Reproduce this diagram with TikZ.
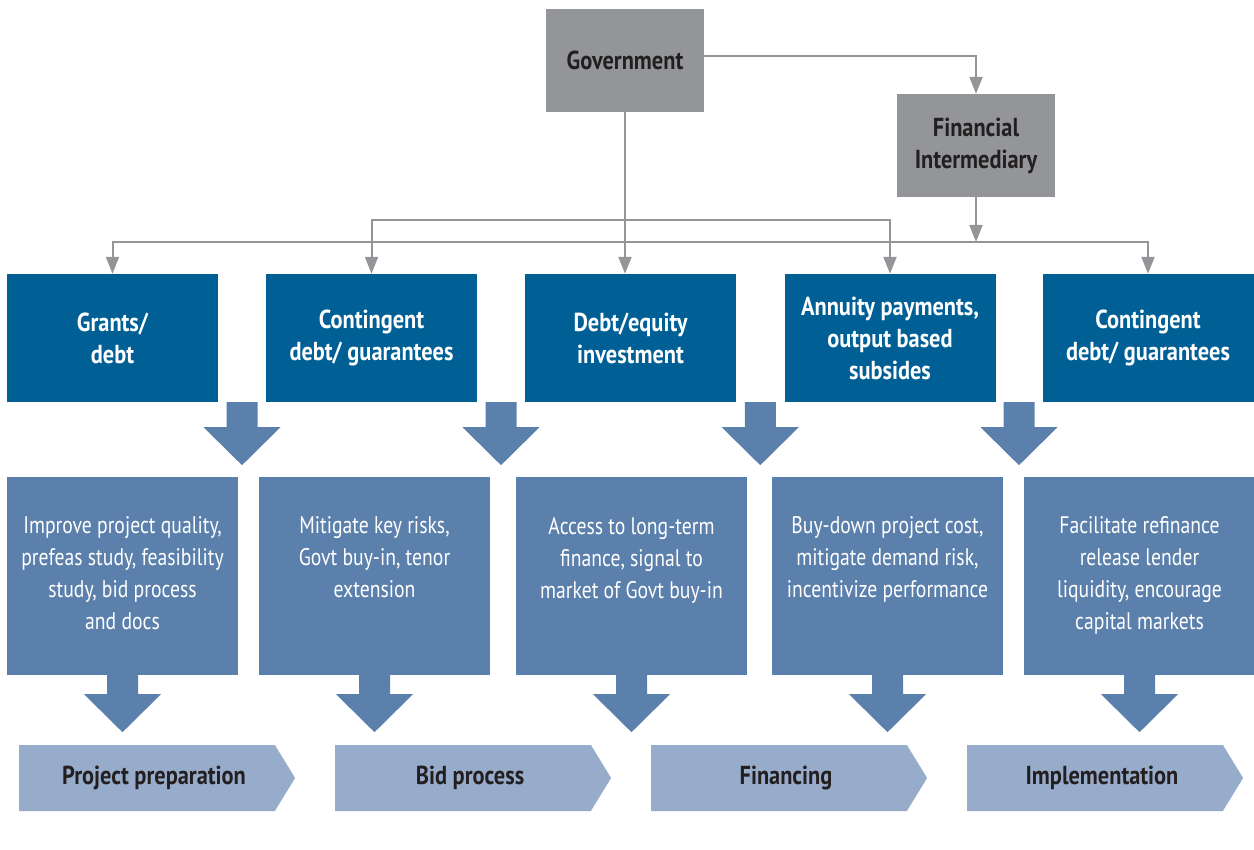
\documentclass[tikz,border=0pt]{standalone}
\usepackage{fontspec}
\setmainfont{PT Sans}[FakeStretch=0.82]
\newfontfamily\headfont{PT Sans}[FakeStretch=0.86]
\usetikzlibrary{arrows.meta, shapes.symbols, calc}

\definecolor{govgray}{RGB}{147,149,152}
\definecolor{toolblue}{RGB}{0,96,150}
\definecolor{effectblue}{RGB}{91,128,172}
\definecolor{phaseblue}{RGB}{151,172,203}
\definecolor{inkdark}{RGB}{35,31,32}

\tikzset{
  govbox/.style={fill=govgray, text=inkdark, font=\headfont\bfseries\fontsize{26}{32}\selectfont,
    align=center, minimum width=158pt, minimum height=103pt, inner sep=0pt},
  toolbox/.style={fill=toolblue, text=white, font=\headfont\bfseries\fontsize{26}{32}\selectfont,
    align=center, minimum width=211pt, minimum height=128pt, inner sep=0pt},
  effectbox/.style={fill=effectblue, minimum width=231pt, minimum height=198pt, inner sep=0pt},
  effecttext/.style={text=white, font=\fontsize{24}{32}\selectfont, align=center,
    anchor=north, inner sep=0pt},
  phase/.style={shape=signal, signal to=east, signal pointer angle=117, fill=phaseblue,
    text=inkdark, font=\headfont\bfseries\fontsize{26}{32}\selectfont,
    minimum width=276pt, minimum height=66pt, inner sep=0pt},
  link/.style={draw=govgray, line width=2pt, -{Triangle[width=13pt,length=17pt]}},
  pics/bigarrow/.style={code={
    \fill[effectblue] (-15.5,0) -- (15.5,0) -- (15.5,#1) -- (38.5,#1) -- (0,#1+38)
      -- (-38.5,#1) -- (-15.5,#1) -- cycle;}},
}

\begin{document}
\begin{tikzpicture}[x=1pt, y=-1pt]
    \useasboundingbox (0,0) rectangle (1254,850);

    % funding sources
    \node[govbox] (gov) at (625,60.5) {Government};
    \node[govbox] (fin) at (976,145.5) {Financial\\Intermediary};

    % instruments
    \node[toolbox] (grants) at (112.5,338) {Grants/\\debt};
    \node[toolbox] (contA) at (371.5,338) {Contingent\\debt/ guarantees};
    \node[toolbox] (debteq) at (630.5,338) {Debt/equity\\investment};
    \node[toolbox] (annuity) at (890,338) {Annuity payments,\\output based\\subsides};
    \node[toolbox] (contB) at (1148,338) {Contingent\\debt/ guarantees};

    % effects
    \node[effectbox] (effA) at (122.5,576) {};
    \node[effectbox] (effB) at (374.5,576) {};
    \node[effectbox] (effC) at (631.5,576) {};
    \node[effectbox] (effD) at (887.5,576) {};
    \node[effectbox] (effE) at (1139.5,576) {};
    \node[effecttext] (txtA) at ([yshift=-40pt]effA.north) {Improve project quality,\\prefeas study, feasibility\\study, bid process\\and docs};
    \node[effecttext] (txtB) at ([yshift=-40pt]effB.north) {Mitigate key risks,\\Govt buy-in, tenor\\extension};
    \node[effecttext] (txtC) at ([yshift=-40pt]effC.north) {Access to long-term\\finance, signal to\\market of Govt buy-in};
    \node[effecttext] (txtD) at ([yshift=-40pt]effD.north) {Buy-down project cost,\\mitigate demand risk,\\incentivize performance};
    \node[effecttext] (txtE) at ([yshift=-40pt]effE.north) {Facilitate refinance\\release lender\\liquidity, encourage\\capital markets};

    % project phases
    \node[phase] (prep) at (147,778) {\hspace{14pt}Project preparation};
    \node[phase] (bid) at (463,778) {\hspace{14pt}Bid process};
    \node[phase] (financing) at (779,778) {\hspace{14pt}Financing};
    \node[phase] (impl) at (1095,778) {\hspace{14pt}Implementation};

    % gray connectors
    \coordinate (busA) at (625,220);
    \coordinate (busB) at (976,242);
    \draw[link] ([yshift=4pt]gov.east) -| (fin.north);
    \draw[link] (fin.south) -- (busB);
    \draw[link] (busB) -| (grants.north);
    \draw[link] (busB) -| (contB.north);
    \draw[link] (busA) -| (contA.north);
    \draw[link] (busA) -| (annuity.north);
    \draw[link] (gov.south) -- (gov.south |- debteq.north);

    % block arrows
    \pic at ($(grants.south east)!0.5!(contA.south west)$) {bigarrow=25};
    \pic at ($(contA.south east)!0.5!(debteq.south west)$) {bigarrow=25};
    \pic at ($(debteq.south east)!0.5!(annuity.south west)$) {bigarrow=25};
    \pic at ($(annuity.south east)!0.5!(contB.south west)$) {bigarrow=25};
    \pic at (effA.south) {bigarrow=19};
    \pic at (effB.south) {bigarrow=19};
    \pic at (effC.south) {bigarrow=19};
    \pic at (effD.south) {bigarrow=19};
    \pic at (effE.south) {bigarrow=19};
\end{tikzpicture}
\end{document}
